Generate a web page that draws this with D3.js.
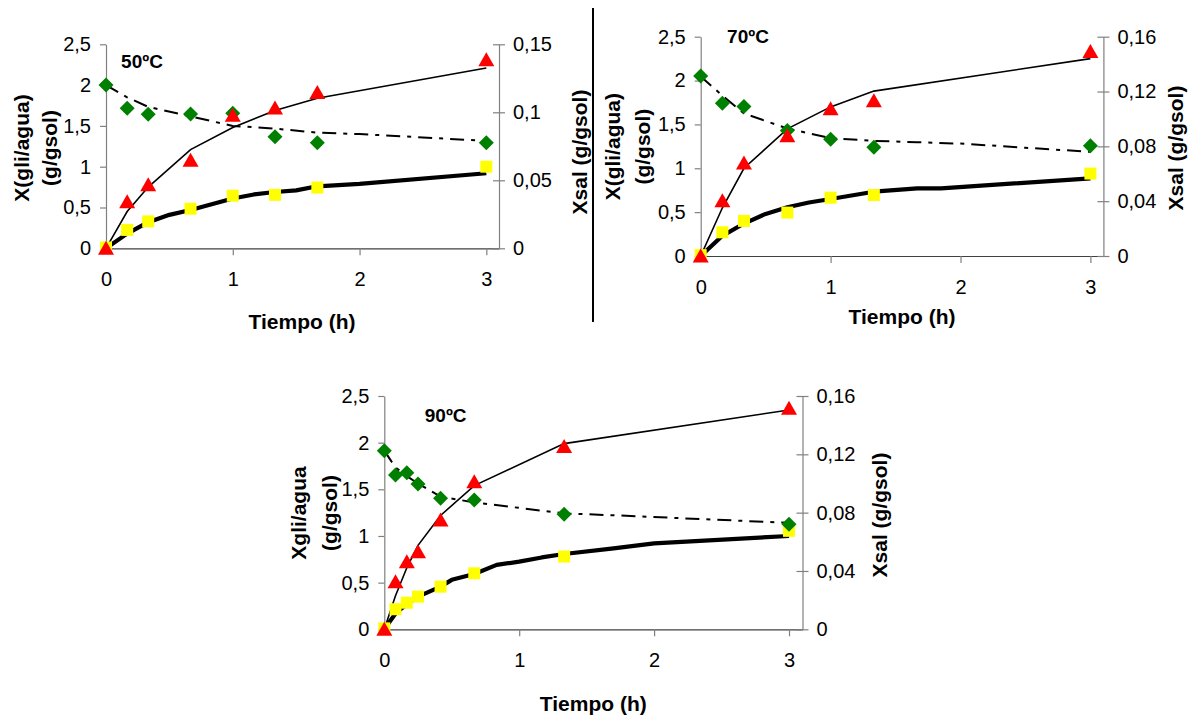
<!DOCTYPE html>
<html>
<head>
<meta charset="utf-8">
<script src="https://cdn.jsdelivr.net/npm/d3@7"></script>
<style>
  body { margin: 0; background: #fff; }
  svg { display: block; font-family: "Liberation Sans", Arial, sans-serif; }
  .tick text { font-size: 20px; fill: #000; }
  .lab { font-size: 21px; font-weight: bold; fill: #000; }
</style>
</head>
<body>
<div id="chart"></div>
<script>
// ---- data ----
// 50 ºC
var t50 = [0, 0.167, 0.333, 0.667, 1, 1.333, 1.667, 3];
var gli50 = [0, 0.57, 0.78, 1.08, 1.63, 1.72, 1.91, 2.31];
var agua50 = [0.01, 0.225, 0.33, 0.485, 0.645, 0.655, 0.745, 1.0];
var sal50 = [0.120, 0.103, 0.0985, 0.0988, 0.0993, 0.082, 0.0777, 0.0777];
var tGliFit50 = [0, 0.167, 0.333, 0.667, 1, 1.333, 1.667, 3];
var gliFit50 = [0, 0.45, 0.75, 1.21, 1.48, 1.69, 1.84, 2.21];
var tAguaFit50 = [0, 0.167, 0.333, 0.5, 0.667, 1, 1.167, 1.333, 1.5, 1.667, 2, 3];
var aguaFit50 = [0, 0.18, 0.32, 0.41, 0.47, 0.61, 0.66, 0.69, 0.71, 0.76, 0.79, 0.92];
var tSalFit50 = [0, 0.167, 0.333, 0.667, 1, 1.333, 1.667, 2, 3];
var salFit50 = [0.120, 0.111, 0.104, 0.097, 0.090, 0.088, 0.085, 0.084, 0.079];

// 70 ºC
var t70 = [0, 0.167, 0.333, 0.667, 1, 1.333, 3];
var gli70 = [0, 0.63, 1.06, 1.37, 1.68, 1.77, 2.33];
var agua70 = [0.01, 0.27, 0.40, 0.495, 0.665, 0.695, 0.94];
var sal70 = [0.1313, 0.1114, 0.109, 0.0915, 0.0851, 0.0793, 0.0805];
var tGliFit70 = [0, 0.167, 0.333, 0.667, 1, 1.333, 3];
var gliFit70 = [0, 0.55, 1.0, 1.45, 1.70, 1.88, 2.25];
var tAguaFit70 = [0, 0.167, 0.333, 0.5, 0.667, 0.833, 1, 1.333, 1.667, 1.85, 3];
var aguaFit70 = [0, 0.23, 0.37, 0.48, 0.555, 0.61, 0.65, 0.733, 0.77, 0.77, 0.886];
var tSalFit70 = [0, 0.167, 0.333, 0.667, 1, 1.333, 1.667, 2, 2.5, 3];
var salFit70 = [0.131, 0.117, 0.104, 0.093, 0.086, 0.084, 0.083, 0.082, 0.079, 0.076];

// 90 ºC
var t90 = [0, 0.083, 0.167, 0.25, 0.417, 0.667, 1.333, 3];
var gli90 = [0, 0.51, 0.725, 0.83, 1.17, 1.58, 1.96, 2.37];
var agua90 = [0.01, 0.215, 0.285, 0.35, 0.457, 0.60, 0.78, 1.055];
var sal90 = [0.1225, 0.1058, 0.1074, 0.0997, 0.0898, 0.0887, 0.0789, 0.072];
var tGliFit90 = [0, 0.083, 0.167, 0.25, 0.417, 0.667, 1.333, 3];
var gliFit90 = [0, 0.36, 0.66, 0.90, 1.22, 1.54, 1.99, 2.35];
var tAguaFit90 = [0, 0.083, 0.167, 0.25, 0.417, 0.5, 0.667, 0.833, 1, 1.167, 1.333, 1.7, 2, 3];
var aguaFit90 = [0, 0.17, 0.27, 0.35, 0.457, 0.53, 0.593, 0.69, 0.725, 0.77, 0.807, 0.868, 0.92, 1.0];
var tSalFit90 = [0, 0.083, 0.167, 0.25, 0.417, 0.667, 1.333, 1.75, 3];
var salFit90 = [0.1225, 0.111, 0.105, 0.100, 0.091, 0.087, 0.0795, 0.078, 0.073];

var xTicks = [0, 1, 2, 3];
var yTicks = [0, 0.5, 1, 1.5, 2, 2.5];
var salTicks15 = [0, 0.05, 0.1, 0.15];
var salTicks16 = [0, 0.04, 0.08, 0.12, 0.16];

var width = 1193, height = 717;

var svg = d3.select('#chart')
    .append('svg')
    .attr('width', width)
    .attr('height', height);

var comma = function (d) { return String(d).replace('.', ','); };
var zip = function (xs, ys) { return xs.map(function (x, i) { return [x, ys[i]]; }); };

function drawPanel(p) {
    var g = svg.append('g');

    var x = d3.scaleLinear().domain([0, 3.1]).range([p.left, p.right]);
    var y = d3.scaleLinear().domain([0, 2.5]).range([p.bottom, p.top]);
    var y2 = d3.scaleLinear().domain([0, p.salMax]).range([p.bottom, p.top]);

    // axes
    var ax = g.append('g')
        .attr('transform', 'translate(0,' + p.bottom + ')')
        .call(d3.axisBottom(x).tickValues(xTicks).tickSize(7).tickSizeOuter(0).tickPadding(17).tickFormat(comma));
    var ay = g.append('g')
        .attr('transform', 'translate(' + p.left + ',0)')
        .call(d3.axisLeft(y).tickValues(yTicks).tickSize(6).tickSizeOuter(0).tickPadding(9).tickFormat(comma));
    var ay2 = g.append('g')
        .attr('transform', 'translate(' + p.right + ',0)')
        .call(d3.axisRight(y2).tickValues(p.salTicks).tickSize(6).tickSizeOuter(0).tickPadding(8).tickFormat(comma));
    ay2.selectAll('.tick line').attr('x1', -6);
    [ax, ay, ay2].forEach(function (a) {
        a.selectAll('path, line').attr('stroke', '#808080').attr('stroke-width', 1.2);
        a.selectAll('text').attr('font-family', '"Liberation Sans", Arial, sans-serif').attr('font-size', 20);
    });
    ax.select('.domain').attr('stroke', '#404040');
    ax.selectAll('.tick').filter(function (d) { return d === 0; }).select('line').remove();

    // model lines
    var line = d3.line().x(function (d) { return x(d[0]); }).y(function (d) { return y(d[1]); });
    var line2 = d3.line().x(function (d) { return x(d[0]); }).y(function (d) { return y2(d[1]); });

    g.append('path').attr('d', line2(zip(p.tSalFit, p.salFit)))
        .attr('fill', 'none').attr('stroke', '#000').attr('stroke-width', 2)
        .attr('stroke-dasharray', '14,7,4,7');
    g.append('path').attr('d', line(zip(p.tAguaFit, p.aguaFit)))
        .attr('fill', 'none').attr('stroke', '#000').attr('stroke-width', 4.2)
        .attr('stroke-linejoin', 'round');
    g.append('path').attr('d', line(zip(p.tGliFit, p.gliFit)))
        .attr('fill', 'none').attr('stroke', '#000').attr('stroke-width', 1.6);

    // markers
    g.selectAll('.sq').data(zip(p.t, p.agua)).enter().append('rect')
        .attr('x', function (d) { return x(d[0]) - 6; })
        .attr('y', function (d) { return y(d[1]) - 6; })
        .attr('width', 12).attr('height', 12)
        .attr('fill', '#ffff00');
    g.selectAll('.di').data(zip(p.t, p.sal)).enter().append('path')
        .attr('transform', function (d) { return 'translate(' + x(d[0]) + ',' + y2(d[1]) + ')'; })
        .attr('d', 'M0,-7.5L7.5,0L0,7.5L-7.5,0Z')
        .attr('fill', '#008000');
    g.selectAll('.tr').data(zip(p.t, p.gli)).enter().append('path')
        .attr('transform', function (d) { return 'translate(' + x(d[0]) + ',' + y(d[1]) + ')'; })
        .attr('d', 'M0,-7.5L8,6.5L-8,6.5Z')
        .attr('fill', '#ff0000');

    // texts
    g.append('text').attr('class', 'lab').attr('x', p.titleX).attr('y', p.titleY)
        .attr('dy', '0.35em').attr('text-anchor', 'middle').style('font-size', '19px').text(p.title);
    g.append('text').attr('class', 'lab').attr('x', p.xLabX).attr('y', p.xLabY)
        .attr('dy', '0.35em').attr('text-anchor', 'middle').text('Tiempo (h)');
    p.yLab.forEach(function (s, i) {
        g.append('text').attr('class', 'lab')
            .attr('transform', 'translate(' + p.yLabX[i] + ',' + p.yLabY + ') rotate(-90)')
            .attr('dy', '0.35em').attr('text-anchor', 'middle').text(s);
    });
    g.append('text').attr('class', 'lab')
        .attr('transform', 'translate(' + p.rLabX + ',' + p.rLabY + ') rotate(-90)')
        .attr('dy', '0.35em').attr('text-anchor', 'middle').text('Xsal (g/gsol)');
}

drawPanel({
    left: 106, right: 499, top: 44.3, bottom: 248.3, salMax: 0.15, salTicks: salTicks15,
    t: t50, gli: gli50, agua: agua50, sal: sal50,
    tGliFit: tGliFit50, gliFit: gliFit50, tAguaFit: tAguaFit50, aguaFit: aguaFit50,
    tSalFit: tSalFit50, salFit: salFit50,
    title: '50ºC', titleX: 142, titleY: 61.5,
    xLabX: 302, xLabY: 321.5,
    yLab: ['X(gli/agua)', '(g/gsol)'], yLabX: [21.5, 50], yLabY: 148,
    rLabX: 580, rLabY: 152
});

drawPanel({
    left: 700.7, right: 1103.4, top: 36.7, bottom: 256, salMax: 0.16, salTicks: salTicks16,
    t: t70, gli: gli70, agua: agua70, sal: sal70,
    tGliFit: tGliFit70, gliFit: gliFit70, tAguaFit: tAguaFit70, aguaFit: aguaFit70,
    tSalFit: tSalFit70, salFit: salFit70,
    title: '70ºC', titleX: 748, titleY: 36,
    xLabX: 902, xLabY: 316.5,
    yLab: ['X(gli/agua)', '(g/gsol)'], yLabX: [613, 643], yLabY: 146.7,
    rLabX: 1176, rLabY: 148
});

drawPanel({
    left: 384.3, right: 802.5, top: 396, bottom: 629.3, salMax: 0.16, salTicks: salTicks16,
    t: t90, gli: gli90, agua: agua90, sal: sal90,
    tGliFit: tGliFit90, gliFit: gliFit90, tAguaFit: tAguaFit90, aguaFit: aguaFit90,
    tSalFit: tSalFit90, salFit: salFit90,
    title: '90ºC', titleX: 445.7, titleY: 415,
    xLabX: 593.3, xLabY: 703.3,
    yLab: ['Xgli/agua', '(g/gsol)'], yLabX: [298.3, 329.3], yLabY: 513,
    rLabX: 880, rLabY: 515
});

// divider between the two upper charts
svg.append('line')
    .attr('x1', 593).attr('x2', 593).attr('y1', 8).attr('y2', 322)
    .attr('stroke', '#000').attr('stroke-width', 2);
</script>
</body>
</html>
